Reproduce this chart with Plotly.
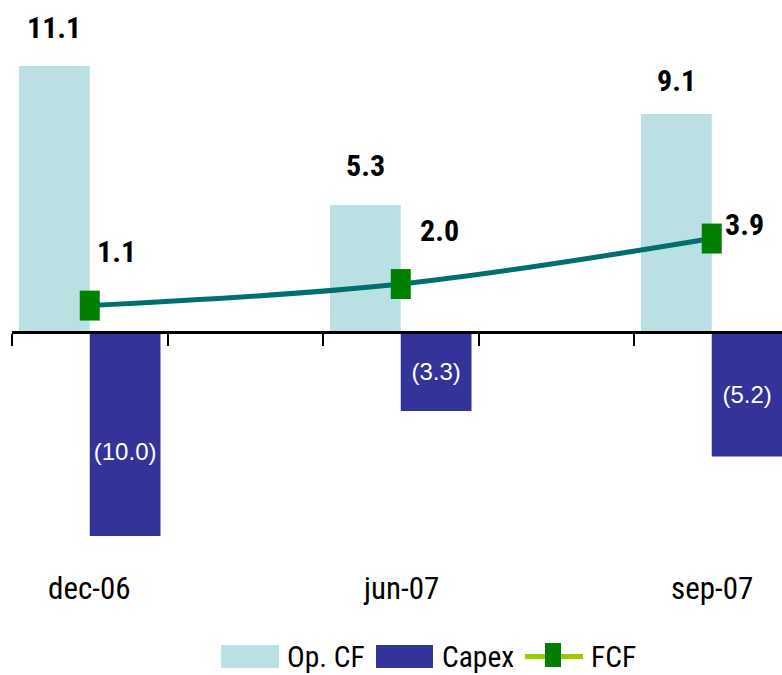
import plotly.graph_objects as go

# Cash-flow data per period (EUR bn)
categories = ["dec-06", "jun-07", "sep-07"]
op_cf = [11.1, 5.3, 9.1]
capex = [-10.0, -3.3, -5.2]
fcf = [1.1, 2.0, 3.9]

# Figure geometry
W, H = 782, 675
ML, MR, MT, MB = 12, 0, 0, 139
SLOT = 2                      # each period uses two slots (one spacer slot between periods)
SLOT_PX = 155.5
X_MIN = -0.5
X_MAX = X_MIN + (W - ML - MR) / SLOT_PX
Y_MIN, Y_MAX = -8.52, 13.86
BAR_W = 0.455

OPCF_COLOR = "#BBE0E3"
CAPEX_COLOR = "#333399"
FCF_LINE = "#00706F"
FCF_MARK = "#008000"
FCF_LEGEND_LINE = "#99CC00"
NARROW = ("Liberation Sans Narrow, Arial Narrow, Roboto Condensed, "
          "DejaVu Sans Condensed, Open Sans Condensed, sans-serif")
REGULAR = "Liberation Sans, Arial, sans-serif"

# label nudges (pixels)
OPCF_LABEL_YSHIFT = [39, 40, 34]
FCF_LABEL_SHIFT = [(27, 54), (39, 54), (33, 14)]

x_pos = [i * SLOT for i in range(len(categories))]
capex_text = [f"({abs(v):.1f})" if v < 0 else f"{v:.1f}" for v in capex]

fig = go.Figure()

fig.add_trace(go.Bar(
    name="Op. CF", x=x_pos, y=op_cf, width=BAR_W, offset=-BAR_W,
    marker=dict(color=OPCF_COLOR, line=dict(width=0)),
    showlegend=False, hoverinfo="skip",
))

fig.add_trace(go.Bar(
    name="Capex", x=x_pos, y=capex, width=BAR_W, offset=0,
    marker=dict(color=CAPEX_COLOR, line=dict(width=0)),
    text=capex_text, textposition="inside", insidetextanchor="middle",
    textangle=0, constraintext="none",
    textfont=dict(family=REGULAR, size=24, color="white"),
    showlegend=False, hoverinfo="skip",
))

# FCF line; 'line-ns' markers with a wide stroke give tall rectangular points
fig.add_trace(go.Scatter(
    name="FCF", x=x_pos, y=fcf, mode="lines+markers",
    line=dict(color=FCF_LINE, width=5, shape="spline", smoothing=1),
    marker=dict(symbol="line-ns", size=21.4, color=FCF_MARK,
                line=dict(width=20, color=FCF_MARK)),
    showlegend=False, hoverinfo="skip",
))

annotations = []
for xp, v, ys in zip(x_pos, op_cf, OPCF_LABEL_YSHIFT):
    annotations.append(dict(
        x=xp - BAR_W / 2, y=v, xref="x", yref="y", text=f"{v:.1f}",
        showarrow=False, yanchor="middle", yshift=ys,
        font=dict(family=NARROW, size=30, color="black", weight="bold"),
    ))
for xp, v, (xs, ys) in zip(x_pos, fcf, FCF_LABEL_SHIFT):
    annotations.append(dict(
        x=xp, y=v, xref="x", yref="y", text=f"{v:.1f}",
        showarrow=False, yanchor="middle", xshift=xs, yshift=ys,
        font=dict(family=NARROW, size=30, color="black", weight="bold"),
    ))
for xp, c in zip(x_pos, categories):
    annotations.append(dict(
        x=xp, y=0, xref="x", yref="paper", text=c, showarrow=False,
        yanchor="middle", yshift=-52,
        font=dict(family=NARROW, size=31, color="black"),
    ))

# Legend drawn below the plot (pixel helpers map to paper coordinates)
PW, PH = W - ML - MR, H - MT - MB


def px_x(px):
    return (px - ML) / PW


def px_y(py):
    return (MT + PH - py) / PH


shapes = []
LEG_Y0, LEG_Y1, LEG_YC = 645, 668, 656.5
shapes.append(dict(type="rect", xref="paper", yref="paper",
                   x0=px_x(221), x1=px_x(279), y0=px_y(LEG_Y1), y1=px_y(LEG_Y0),
                   fillcolor=OPCF_COLOR, line=dict(width=0)))
shapes.append(dict(type="rect", xref="paper", yref="paper",
                   x0=px_x(376), x1=px_x(433), y0=px_y(LEG_Y1), y1=px_y(LEG_Y0),
                   fillcolor=CAPEX_COLOR, line=dict(width=0)))
shapes.append(dict(type="line", xref="paper", yref="paper",
                   x0=px_x(525), x1=px_x(583), y0=px_y(LEG_YC), y1=px_y(LEG_YC),
                   line=dict(color=FCF_LEGEND_LINE, width=5)))
shapes.append(dict(type="rect", xref="paper", yref="paper",
                   x0=px_x(545), x1=px_x(561), y0=px_y(667), y1=px_y(643),
                   fillcolor=FCF_MARK, line=dict(width=0)))

for label, left in [("Op. CF", 285), ("Capex", 440), ("FCF", 589)]:
    annotations.append(dict(
        x=px_x(left), y=px_y(LEG_YC), xref="paper", yref="paper", text=label,
        showarrow=False, xanchor="left", yanchor="middle",
        font=dict(family=NARROW, size=29.5, color="black"),
    ))

fig.update_layout(
    width=W, height=H,
    margin=dict(l=ML, r=MR, t=MT, b=MB, pad=0),
    paper_bgcolor="white", plot_bgcolor="white",
    barmode="overlay",
    showlegend=False,
    font=dict(family=NARROW, color="black"),
    xaxis=dict(
        range=[X_MIN, X_MAX],
        tickvals=[X_MIN + k for k in range(5)],
        ticks="outside", ticklen=12, tickwidth=2, tickcolor="black",
        showticklabels=False, showgrid=False, zeroline=False,
        showline=True, linewidth=2.5, linecolor="black",
        anchor="free", position=-Y_MIN / (Y_MAX - Y_MIN),
    ),
    yaxis=dict(
        range=[Y_MIN, Y_MAX], showticklabels=False, showgrid=False,
        zeroline=False, showline=False, ticks="",
    ),
    annotations=annotations,
    shapes=shapes,
)

fig.write_html("out.html")
